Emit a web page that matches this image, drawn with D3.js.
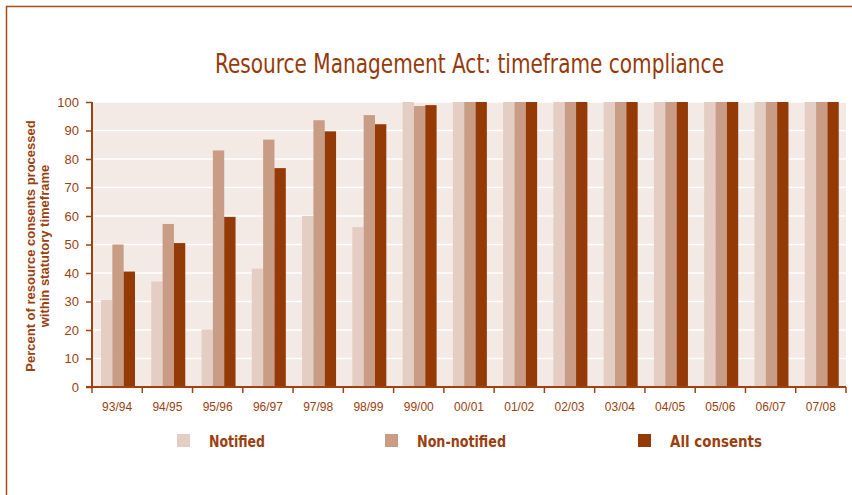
<!DOCTYPE html>
<html>
<head>
<meta charset="utf-8">
<script src="https://cdn.jsdelivr.net/npm/d3@7/dist/d3.min.js"></script>
<style>
  html, body { margin: 0; padding: 0; background: #fff; }
  svg { display: block; }
</style>
</head>
<body>
<svg id="chart" width="852" height="495"></svg>
<script>
const categories = ["93/94","94/95","95/96","96/97","97/98","98/99","99/00","00/01","01/02","02/03","03/04","04/05","05/06","06/07","07/08"];
const seriesNames = ["Notified", "Non-notified", "All consents"];
const notified    = [30.5, 37.0, 20.2, 41.5, 60.0, 56.1, 100, 100, 100, 100, 100, 100, 100, 100, 100];
const nonNotified = [50.0, 57.2, 83.0, 86.8, 93.6, 95.4, 98.6, 100, 100, 100, 100, 100, 100, 100, 100];
const allConsents = [40.5, 50.5, 59.7, 76.8, 89.7, 92.2, 98.9, 100, 100, 100, 100, 100, 100, 100, 100];
const yTicks = [0, 10, 20, 30, 40, 50, 60, 70, 80, 90, 100];
const colors = ["#e4cdc2", "#c99d85", "#933a06"];

const seriesValues = [notified, nonNotified, allConsents];
const svg = d3.select("#chart");
const axisColor = "#a0420f";
const textColor = "#9a3f10";

// outer frame
svg.append("path")
  .attr("d", "M6.5,495 L6.5,6.5 L852,6.5")
  .attr("fill", "none").attr("stroke", "#a84a12").attr("stroke-width", 1.5);

const plot = { left: 92, right: 846, top: 102, bottom: 387 };

const x0 = d3.scaleBand().domain(categories).range([plot.left, plot.right]).padding(0);
const x1 = d3.scaleBand().domain(seriesNames).range([9, 43]).padding(0);
const y = d3.scaleLinear().domain([0, 100]).range([plot.bottom, plot.top]);

// background
svg.append("rect")
  .attr("x", plot.left).attr("y", y(100))
  .attr("width", plot.right - plot.left).attr("height", y(0) - y(100))
  .attr("fill", "#f3e9e5");

// gridlines
svg.append("g").selectAll("line").data(yTicks.filter(d => d > 0)).join("line")
  .attr("x1", plot.left).attr("x2", plot.right)
  .attr("y1", d => y(d)).attr("y2", d => y(d))
  .attr("stroke", "#ffffff").attr("stroke-width", 1.5);

// bars
const groups = svg.append("g").selectAll("g").data(categories).join("g")
  .attr("transform", d => `translate(${x0(d)},0)`);
groups.selectAll("rect")
  .data((c, i) => seriesNames.map((s, k) => ({ s, k, v: seriesValues[k][i] })))
  .join("rect")
  .attr("x", d => x1(d.s))
  .attr("width", x1.bandwidth())
  .attr("y", d => y(d.v))
  .attr("height", d => y(0) - y(d.v))
  .attr("fill", d => colors[d.k]);

// y axis
const yAxis = svg.append("g")
  .attr("transform", `translate(${plot.left},0)`)
  .call(d3.axisLeft(y).tickValues(yTicks).tickSize(6).tickPadding(7).tickFormat(d3.format("d")));
yAxis.select(".domain").attr("stroke", axisColor).attr("stroke-width", 2)
  .attr("d", `M0,${y(100)}V${y(0)}`);
yAxis.selectAll(".tick line").attr("stroke", axisColor).attr("stroke-width", 1.5);
yAxis.selectAll(".tick text")
  .attr("fill", textColor).attr("font-family", "Liberation Sans, Arial, sans-serif").attr("font-size", 13);

// x axis
const xTickPositions = categories.map(c => x0(c)).concat([plot.right]);
const xAxis = svg.append("g");
xAxis.append("line")
  .attr("x1", plot.left - 6).attr("x2", plot.right)
  .attr("y1", y(0)).attr("y2", y(0))
  .attr("stroke", axisColor).attr("stroke-width", 2);
xAxis.selectAll("line.tk").data(xTickPositions).join("line").attr("class", "tk")
  .attr("x1", d => d).attr("x2", d => d)
  .attr("y1", y(0)).attr("y2", y(0) + 6)
  .attr("stroke", axisColor).attr("stroke-width", 1.5);
xAxis.selectAll("text").data(categories).join("text")
  .attr("x", d => x0(d) + x0.bandwidth() / 2)
  .attr("y", y(0) + 24)
  .attr("text-anchor", "middle")
  .attr("fill", textColor)
  .attr("font-family", "Liberation Sans, Arial, sans-serif")
  .attr("font-size", 12)
  .text(d => d);

// y axis title
const yTitle = svg.append("text")
  .attr("transform", "translate(35,246) rotate(-90)")
  .attr("text-anchor", "middle")
  .attr("fill", textColor)
  .attr("font-family", "Liberation Sans, Arial, sans-serif")
  .attr("font-weight", "bold")
  .attr("font-size", 13);
yTitle.append("tspan").attr("x", 0).attr("dy", 0).text("Percent of resource consents processed");
yTitle.append("tspan").attr("x", 0).attr("dy", 13.5).text("within statutory timeframe");

// title
svg.append("text")
  .attr("x", 215).attr("y", 73)
  .attr("fill", "#963a0b")
  .attr("font-family", "DejaVu Sans Condensed, Liberation Sans, sans-serif")
  .attr("font-size", 27)
  .attr("textLength", 509)
  .attr("lengthAdjust", "spacingAndGlyphs")
  .text("Resource Management Act: timeframe compliance");

// legend
const legendX = [177, 385, 638];
const legendW = [56, 89, 92];
const legend = svg.append("g").selectAll("g").data(seriesNames).join("g");
legend.append("rect")
  .attr("x", (d, i) => legendX[i]).attr("y", 434)
  .attr("width", 13).attr("height", 13)
  .attr("fill", (d, i) => colors[i]);
legend.append("text")
  .attr("x", (d, i) => legendX[i] + 32).attr("y", 447)
  .attr("fill", textColor)
  .attr("font-family", "DejaVu Sans Condensed, Liberation Sans, sans-serif")
  .attr("font-weight", "bold")
  .attr("font-size", 16)
  .attr("textLength", (d, i) => legendW[i])
  .attr("lengthAdjust", "spacingAndGlyphs")
  .text(d => d);
</script>
</body>
</html>
